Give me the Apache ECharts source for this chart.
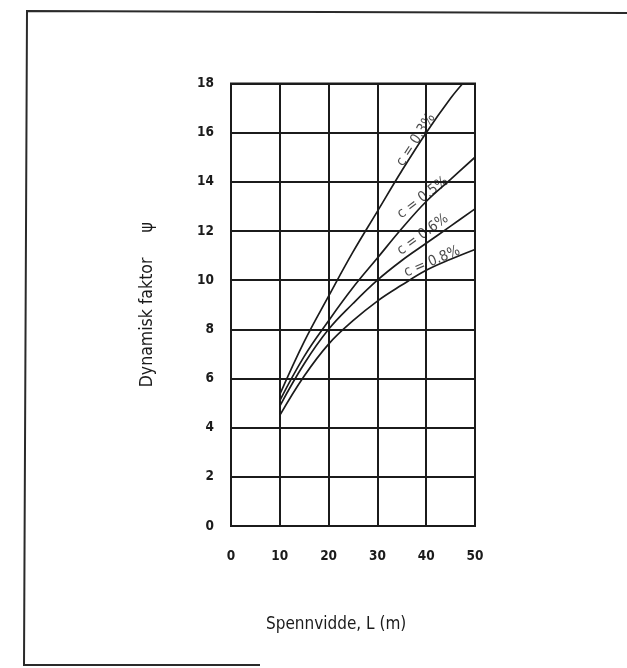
<!DOCTYPE html>
<html>
<head>
<meta charset="utf-8">
<script src="https://cdn.jsdelivr.net/npm/echarts@6/dist/echarts.min.js"></script>
<style>html,body{margin:0;padding:0;background:#fff}#c{width:627px;height:668px}</style>
</head>
<body>
<div id="c"></div>
<script>
var spans = [10, 15, 20, 25, 30, 35, 40, 45, 50];
var c03 = [5.35, 7.5, 9.35, 11.15, 12.8, 14.45, 16.0, 17.4, 18.0];
var c03Spans = [10, 15, 20, 25, 30, 35, 40, 45, 47.5];
var c05 = [5.1, 6.9, 8.35, 9.7, 10.9, 12.1, 13.2, 14.1, 15.0];
var c06 = [4.88, 6.6, 8.0, 9.05, 10.0, 10.8, 11.5, 12.2, 12.9];
var c08 = [4.5, 6.1, 7.4, 8.35, 9.15, 9.8, 10.4, 10.85, 11.25];
var curveLabels = ['c = 0.3%', 'c = 0.5%', 'c = 0.6%', 'c = 0.8%'];
var labelX = [37.9, 39.3, 39.3, 41.2];
var labelY = [15.7, 13.35, 11.85, 10.75];
var labelAngle = [57, 37, 36, 23];
var xTicks = [0, 10, 20, 30, 40, 50];
var yTicks = [0, 2, 4, 6, 8, 10, 12, 14, 16, 18];

var FONT = '"DejaVu Sans Condensed", "DejaVu Sans", sans-serif';
var INK = '#1b1b1b';

function pairs(xs, ys) { return xs.map(function (x, i) { return [x, ys[i]]; }); }

var curveSeries = [pairs(c03Spans, c03), pairs(spans, c05), pairs(spans, c06), pairs(spans, c08)].map(function (d) {
  return {
    type: 'line', data: d, smooth: 0.4, symbol: 'none', silent: true,
    lineStyle: { color: INK, width: 1.7 }
  };
});

var labelSeries = curveLabels.map(function (t, i) {
  return {
    type: 'scatter', data: [[labelX[i], labelY[i]]], symbolSize: 0, silent: true,
    label: {
      show: true, position: 'inside', formatter: t, rotate: labelAngle[i],
      fontFamily: FONT, fontSize: 14.5, color: INK
    }
  };
});

var chart = echarts.init(document.getElementById('c'));
chart.setOption({
  animation: false,
  backgroundColor: '#fff',
  grid: { left: 231, right: 152, top: 83.5, bottom: 142, show: true, borderColor: INK, borderWidth: 2 },
  xAxis: {
    type: 'value', min: xTicks[0], max: xTicks[xTicks.length - 1], interval: 10,
    axisLine: { show: false }, axisTick: { show: false },
    splitLine: { lineStyle: { color: INK, width: 2 } },
    axisLabel: { margin: 23, fontFamily: FONT, fontWeight: 'bold', fontSize: 13.5, color: INK }
  },
  yAxis: {
    type: 'value', min: yTicks[0], max: yTicks[yTicks.length - 1], interval: 2,
    axisLine: { show: false }, axisTick: { show: false },
    splitLine: { lineStyle: { color: INK, width: 2 } },
    axisLabel: { margin: 17, fontFamily: FONT, fontWeight: 'bold', fontSize: 13.5, color: INK },
    name: 'Dynamisk faktor     \u03c8', nameLocation: 'middle', nameGap: 75,
    nameTextStyle: { fontFamily: FONT, fontSize: 17.5, color: INK }
  },
  graphic: [
    { type: 'polyline', silent: true, shape: { points: [[627, 13], [27, 11], [24, 665], [260, 665]] },
      style: { stroke: '#2a2a2a', lineWidth: 2, fill: null } },
    { type: 'text', silent: true, left: 266, top: 616,
      style: { text: 'Spennvidde, L (m)', fontFamily: FONT, fontSize: 17, fill: INK } }
  ],
  series: curveSeries.concat(labelSeries)
});
</script>
</body>
</html>
